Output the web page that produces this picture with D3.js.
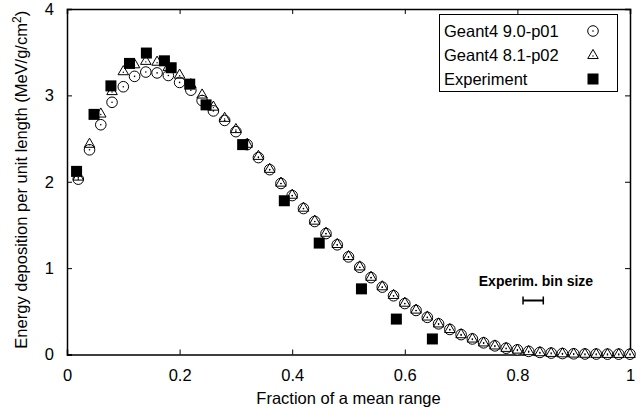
<!DOCTYPE html>
<html>
<head>
<meta charset="utf-8">
<script src="https://cdn.jsdelivr.net/npm/d3@7"></script>
<style>
  body { margin: 0; background: #fff; }
  text { font-family: "Liberation Sans", Arial, Helvetica, sans-serif; }
</style>
</head>
<body>
<div id="chart"></div>
<script>
// x positions of the simulated points (fraction of mean range)
const simX = [0.02, 0.04, 0.06, 0.08, 0.10, 0.12, 0.14, 0.16, 0.18, 0.20,
              0.22, 0.24, 0.26, 0.28, 0.30, 0.32, 0.34, 0.36, 0.38, 0.40,
              0.42, 0.44, 0.46, 0.48, 0.50, 0.52, 0.54, 0.56, 0.58, 0.60,
              0.62, 0.64, 0.66, 0.68, 0.70, 0.72, 0.74, 0.76, 0.78, 0.80,
              0.82, 0.84, 0.86, 0.88, 0.90, 0.92, 0.94, 0.96, 0.98, 1.00];

// Geant4 9.0-p01 (circles)
const g4v90 = [2.03, 2.37, 2.66, 2.92, 3.10, 3.22, 3.27, 3.26, 3.23, 3.15,
               3.06, 2.94, 2.82, 2.71, 2.58, 2.43, 2.28, 2.14, 1.98, 1.84,
               1.69, 1.54, 1.40, 1.27, 1.13, 1.01, 0.89, 0.78, 0.68, 0.59,
               0.51, 0.43, 0.355, 0.29, 0.23, 0.18, 0.135, 0.10, 0.073, 0.054,
               0.036, 0.024, 0.016, 0.011, 0.008, 0.006, 0.005, 0.004, 0.004, 0.004];

// Geant4 8.1-p02 (triangles)
const g4v81 = [2.06, 2.44, 2.79, 3.05, 3.28, 3.36, 3.40, 3.39, 3.33, 3.24,
               3.13, 3.01, 2.87, 2.74, 2.61, 2.44, 2.30, 2.15, 1.99, 1.85,
               1.70, 1.55, 1.41, 1.28, 1.14, 1.02, 0.90, 0.79, 0.69, 0.60,
               0.52, 0.44, 0.36, 0.295, 0.235, 0.185, 0.14, 0.105, 0.077, 0.057,
               0.039, 0.027, 0.019, 0.014, 0.011, 0.009, 0.008, 0.007, 0.007, 0.007];

// Experiment (filled squares)
const expX = [0.017, 0.048, 0.078, 0.111, 0.141, 0.173, 0.185, 0.218, 0.247, 0.312,
              0.386, 0.448, 0.523, 0.585, 0.649];
const expY = [2.12, 2.78, 3.11, 3.37, 3.49, 3.40, 3.32, 3.13, 2.89, 2.43,
              1.78, 1.29, 0.76, 0.41, 0.18];

const xTicks = [0, 0.2, 0.4, 0.6, 0.8, 1];
const yTicks = [0, 1, 2, 3, 4];
const binSize = [0.81, 0.846];

const legendLabels = ["Geant4 9.0-p01", "Geant4 8.1-p02", "Experiment"];

const width = 639, height = 410;
const margin = { top: 9, right: 9, bottom: 55.5, left: 67 };
const innerW = width - margin.left - margin.right;
const innerH = height - margin.top - margin.bottom;
const fontSize = "16.5px";

const svg = d3.select("#chart").append("svg")
    .attr("width", width)
    .attr("height", height);

const g = svg.append("g")
    .attr("transform", `translate(${margin.left},${margin.top})`);

const x = d3.scaleLinear().domain([0, 1]).range([0, innerW]);
const y = d3.scaleLinear().domain([0, 4]).range([innerH, 0]);

const fmtX = d => d === 0 ? "0" : d === 1 ? "1" : d3.format(".1f")(d);

// axes with inward ticks on all four sides
g.append("g")
    .attr("transform", `translate(0,${innerH})`)
    .call(d3.axisBottom(x).tickValues(xTicks).tickFormat(fmtX).tickSize(-5).tickPadding(15))
    .call(ax => ax.selectAll("text").attr("fill", "#000").style("font-size", fontSize));

g.append("g")
    .call(d3.axisTop(x).tickValues(xTicks).tickFormat("").tickSize(-5));

g.append("g")
    .call(d3.axisLeft(y).tickValues(yTicks).tickFormat(d3.format("d")).tickSize(-5).tickPadding(13))
    .call(ax => ax.selectAll("text").attr("fill", "#000").style("font-size", fontSize));

g.append("g")
    .attr("transform", `translate(${innerW},0)`)
    .call(d3.axisRight(y).tickValues(yTicks).tickFormat("").tickSize(-5));

g.selectAll(".domain").attr("stroke", "#000").attr("stroke-width", 1.5);
g.selectAll(".tick line").attr("stroke", "#000").attr("stroke-width", 1);

// axis titles
svg.append("text")
    .attr("x", margin.left + innerW / 2)
    .attr("y", 404)
    .attr("text-anchor", "middle")
    .style("font-size", fontSize)
    .text("Fraction of a mean range");

const yTitle = svg.append("text")
    .attr("transform", `translate(27,${margin.top + innerH / 2 - 2}) rotate(-90)`)
    .attr("text-anchor", "middle")
    .style("font-size", fontSize);
yTitle.append("tspan").text("Energy deposition per unit length (MeV/g/cm");
yTitle.append("tspan").attr("dy", -6).style("font-size", "12px").text("2");
yTitle.append("tspan").attr("dy", 6).text(")");

// symbol helpers
const circleSym = (sel) => {
    sel.append("circle").attr("r", 5.3).attr("fill", "#fff").attr("stroke", "#000").attr("stroke-width", 1);
    sel.append("circle").attr("r", 0.8).attr("fill", "#000");
};
const triPath = d3.symbol().type(d3.symbolTriangle).size(48);
const triSym = (sel) => {
    sel.append("path").attr("d", triPath).attr("transform", "translate(0,0.5)")
        .attr("fill", "none").attr("stroke", "#000").attr("stroke-width", 1);
    sel.append("circle").attr("r", 0.7).attr("cy", 1).attr("fill", "#000");
};
const sqSym = (sel) => {
    sel.append("rect").attr("x", -5.5).attr("y", -5.5).attr("width", 11).attr("height", 11).attr("fill", "#000");
};

const sim90 = simX.map((d, i) => ({ x: d, y: g4v90[i] }));
const sim81 = simX.map((d, i) => ({ x: d, y: g4v81[i] }));
const expData = expX.map((d, i) => ({ x: d, y: expY[i] }));

g.selectAll(".c90").data(sim90).join("g")
    .attr("class", "c90")
    .attr("transform", d => `translate(${x(d.x)},${y(d.y)})`)
    .call(circleSym);

g.selectAll(".t81").data(sim81).join("g")
    .attr("class", "t81")
    .attr("transform", d => `translate(${x(d.x)},${y(d.y)})`)
    .call(triSym);

g.selectAll(".ex").data(expData).join("g")
    .attr("class", "ex")
    .attr("transform", d => `translate(${x(d.x)},${y(d.y)})`)
    .call(sqSym);

// experimental bin size marker
g.append("text")
    .attr("x", x(0.833))
    .attr("y", 286 - margin.top)
    .attr("text-anchor", "middle")
    .style("font-size", "14px")
    .style("font-weight", "bold")
    .text("Experim. bin size");

const binY = 300.5 - margin.top;
g.append("line").attr("x1", x(binSize[0])).attr("x2", x(binSize[1]))
    .attr("y1", binY).attr("y2", binY).attr("stroke", "#000").attr("stroke-width", 2);
binSize.forEach(b => {
    g.append("line").attr("x1", x(b)).attr("x2", x(b))
        .attr("y1", binY - 4).attr("y2", binY + 4).attr("stroke", "#000").attr("stroke-width", 1.5);
});

// legend
const legend = svg.append("g");
legend.append("rect")
    .attr("x", 439.5).attr("y", 14.5).attr("width", 178).attr("height", 77)
    .attr("fill", "#fff").attr("stroke", "#000").attr("stroke-width", 1);

const syms = [circleSym, triSym, sqSym];
legendLabels.forEach((lab, i) => {
    const cy = 31 + i * 24;
    legend.append("text")
        .attr("x", 444).attr("y", cy + 6)
        .style("font-size", fontSize)
        .text(lab);
    legend.append("g")
        .attr("transform", `translate(593,${cy})`)
        .call(syms[i]);
});
</script>
</body>
</html>
